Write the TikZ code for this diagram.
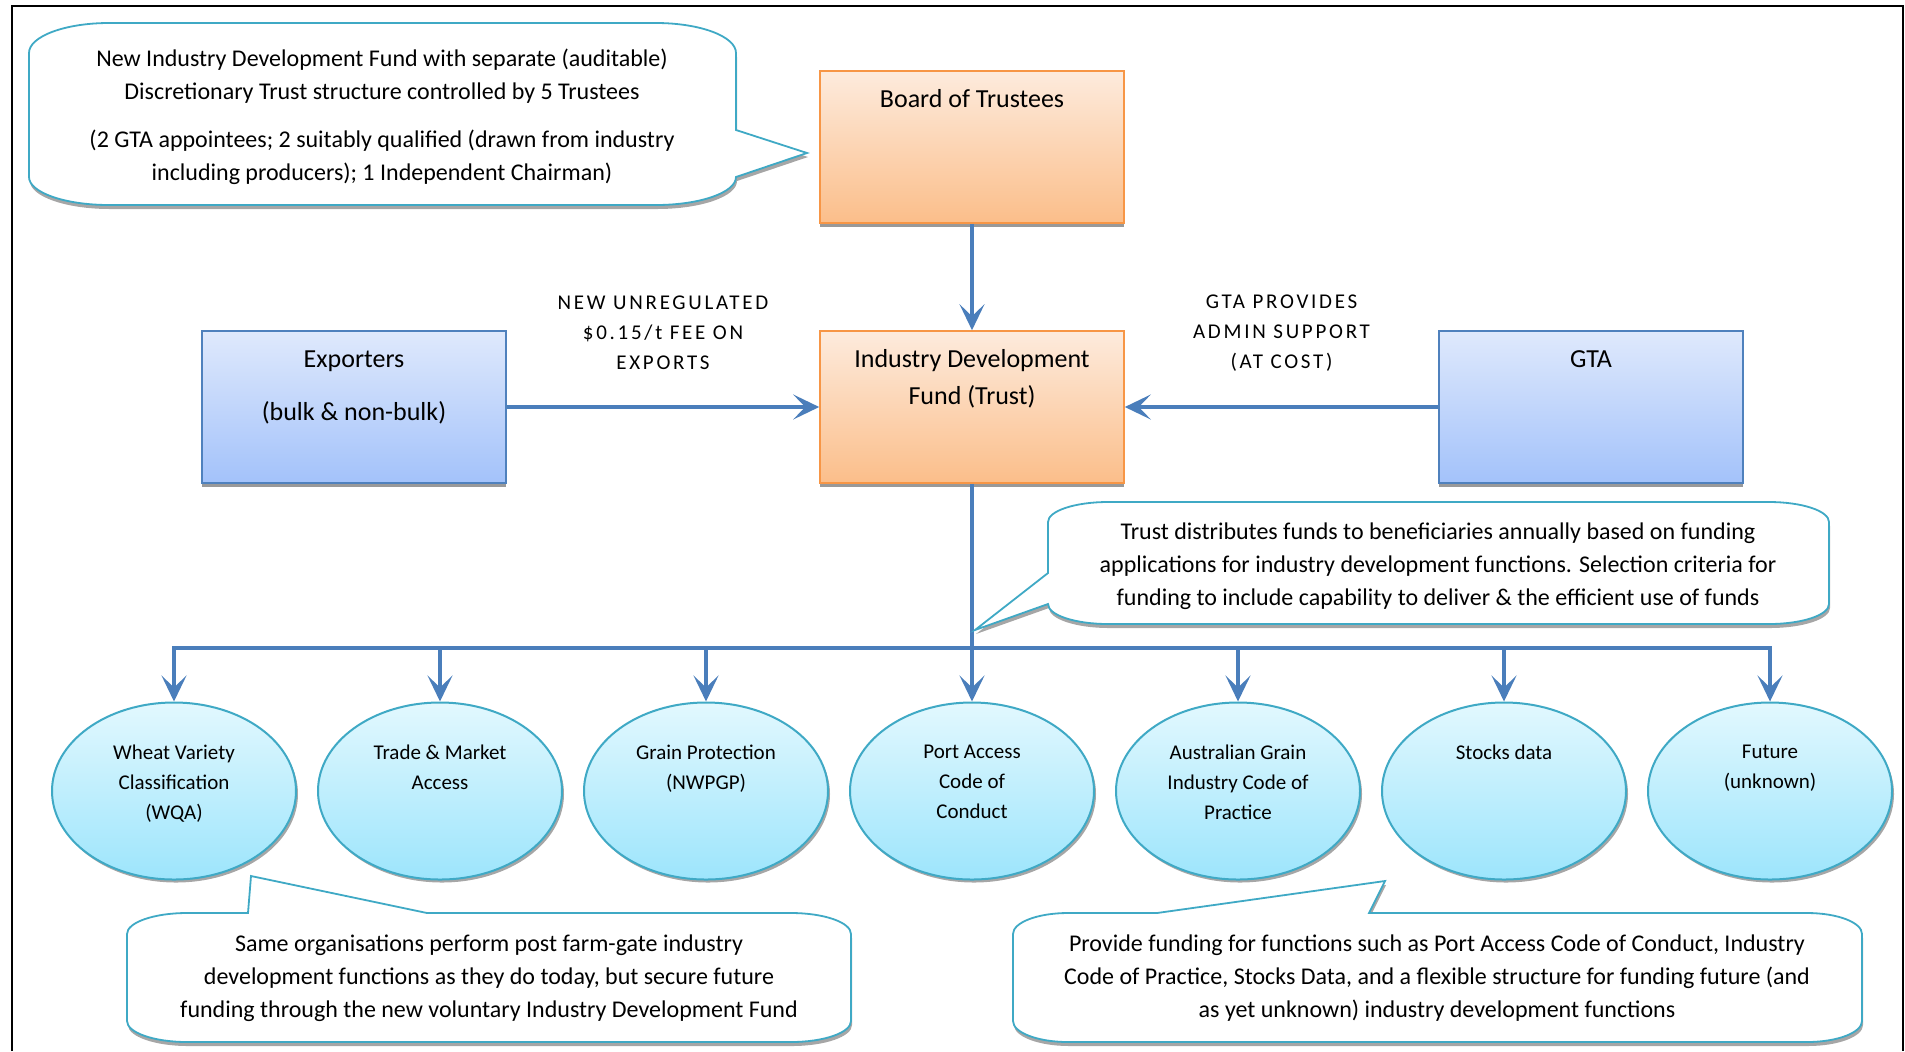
\documentclass[tikz,border=0pt]{standalone}
\usepackage{fontspec}
\setmainfont{Carlito}
\usetikzlibrary{positioning,shapes.geometric,shadows,arrows.meta,calc}

\definecolor{otop}{HTML}{FDEBDD}
\definecolor{obot}{HTML}{FBBE8A}
\definecolor{oline}{HTML}{F79646}
\definecolor{btop}{HTML}{DFE9FC}
\definecolor{bbot}{HTML}{A3C2FA}
\definecolor{bline}{HTML}{4F81BD}
\definecolor{etop}{HTML}{E2F8FE}
\definecolor{ebot}{HTML}{9DE5FC}
\definecolor{cline}{HTML}{3FA9C5}
\definecolor{aline}{HTML}{4A7EBB}

\tikzset{
    obox/.style={draw=oline, line width=0.8pt, top color=otop, bottom color=obot,
        minimum width=152pt, minimum height=76pt, inner sep=0pt,
        drop shadow={shadow xshift=0pt, shadow yshift=-2pt, fill=black!40, opacity=1}},
    bbox/.style={obox, draw=bline, top color=btop, bottom color=bbot},
    fnode/.style={ellipse, draw=cline, line width=1pt, top color=etop, bottom color=ebot,
        minimum width=122pt, minimum height=88.5pt, inner sep=0pt,
        drop shadow={shadow xshift=1pt, shadow yshift=-1.5pt, fill=black!35, opacity=1}},
    btext/.style={inner sep=0pt, align=center, font=\fontsize{13}{18.5}\selectfont},
    etext/.style={inner sep=0pt, align=center, font=\fontsize{10.5}{15}\selectfont},
    ctext/.style={inner sep=0pt, align=center, font=\fontsize{12}{16.5}\selectfont},
    caplbl/.style={inner sep=0pt, align=center,
        font=\fontsize{10.5}{15}\selectfont\addfontfeature{LetterSpace=13}},
    callout/.style={draw=cline, line width=0.9pt, fill=white,
        drop shadow={shadow xshift=0.5pt, shadow yshift=-2pt, fill=black!35, opacity=1}},
    conn/.style={draw=aline, line width=1.6pt},
    arr/.style={conn, -{Stealth[length=13pt, width=12.5pt, inset=6pt]}},
}

\begin{document}
\begin{tikzpicture}[x=0.5pt,y=-0.5pt]
    \useasboundingbox (0,0) rectangle (1905,1051);
    \draw[line width=1.2pt] (12,1051) -- (12,6) -- (1903,6) -- (1903,1051);

    % boxes
    \node[obox] (board) at (972,147) {};
    \node[obox] (idf) at (972,407) {};
    \node[bbox] (exp) at (354,407) {};
    \node[bbox] (gta) at (1591,407) {};
    \node[btext, below=9.5pt of board.north] (boardt) {Board of Trustees};
    \node[btext, below=9.5pt of idf.north] (idft) {Industry Development\\Fund (Trust)};
    \node[btext, below=10pt of exp.north] (expt) {Exporters\\[8pt](bulk \& non-bulk)};
    \node[btext, below=10pt of gta.north] (gtat) {GTA};

    % funded functions
    \foreach \i/\txt in {1/{Wheat Variety\\Classification\\(WQA)}, 2/{Trade \& Market\\Access},
        3/{Grain Protection\\(NWPGP)}, 4/{Port Access\\Code of\\Conduct},
        5/{Australian Grain\\Industry Code of\\Practice}, 6/{Stocks data}, 7/{Future\\(unknown)}} {
        \node[fnode] (e\i) at ({174+266*(\i-1)},791) {};
        \node[etext, below=21.5pt of e\i.north] (t\i) {\txt};
    }

    \coordinate (bus) at (972,648);
    \draw[arr] (board) -- (idf);
    \draw[arr] (exp) -- (idf);
    \draw[arr] (gta) -- (idf);
    \draw[conn] (idf) -- (bus);
    \foreach \i in {1,...,7}
        \draw[arr] (bus) -| (e\i.north);

    \node[caplbl, yshift=-1.5pt] (feelbl) at ($(exp.north east)!.5!(idf.north west)$) {NEW UNREGULATED\\\$0.15/t FEE ON\\EXPORTS};
    \node[caplbl, yshift=-1.5pt] (adminlbl) at ($(idf.north east)!.5!(gta.north west)$) {GTA PROVIDES\\ADMIN SUPPORT\\(AT COST)};

    % callouts
    \draw[callout] (109,23) -- (656,23) arc[start angle=270, end angle=360, x radius=80, y radius=30]
        -- (736,130) -- (807,153) -- (736,177) arc[start angle=0, end angle=90, x radius=80, y radius=28]
        -- (109,205) arc[start angle=90, end angle=180, x radius=80, y radius=28]
        -- (29,53) arc[start angle=180, end angle=270, x radius=80, y radius=30] -- cycle;
    \node[ctext] (c1) at (382,117) {New Industry Development Fund with separate (auditable)\\Discretionary Trust structure controlled by 5 Trustees\\[7.5pt](2 GTA appointees; 2 suitably qualified (drawn from industry\\including producers); 1 Independent Chairman)};

    \draw[callout] (1108,502) -- (1769,502) arc[start angle=270, end angle=360, x radius=60, y radius=20]
        -- (1829,604) arc[start angle=0, end angle=90, x radius=60, y radius=20]
        -- (1108,624) arc[start angle=90, end angle=180, x radius=60, y radius=20]
        -- (975,630) -- (1048,573) -- (1048,522) arc[start angle=180, end angle=270, x radius=60, y radius=20] -- cycle;
    \node[ctext] (c2) at (1438,566) {Trust distributes funds to beneficiaries annually based on funding\\applications for industry development functions. Selection criteria for\\funding to include capability to deliver \& the efficient use of funds};

    \draw[callout] (187,913) -- (248,913) -- (251,876) -- (427,913) -- (791,913)
        arc[start angle=270, end angle=360, x radius=60, y radius=21]
        -- (851,1021) arc[start angle=0, end angle=90, x radius=60, y radius=21]
        -- (187,1042) arc[start angle=90, end angle=180, x radius=60, y radius=21]
        -- (127,934) arc[start angle=180, end angle=270, x radius=60, y radius=21] -- cycle;
    \node[ctext] (c3) at (489,978) {Same organisations perform post farm-gate industry\\development functions as they do today, but secure future\\funding through the new voluntary Industry Development Fund};

    \draw[callout] (1068,913) -- (1157,913) -- (1385,881) -- (1369,913) -- (1807,913)
        arc[start angle=270, end angle=360, x radius=55, y radius=21]
        -- (1862,1021) arc[start angle=0, end angle=90, x radius=55, y radius=21]
        -- (1068,1042) arc[start angle=90, end angle=180, x radius=55, y radius=21]
        -- (1013,934) arc[start angle=180, end angle=270, x radius=55, y radius=21] -- cycle;
    \node[ctext] (c4) at (1437,978) {Provide funding for functions such as Port Access Code of Conduct, Industry\\Code of Practice, Stocks Data, and a flexible structure for funding future (and\\as yet unknown) industry development functions};
\end{tikzpicture}
\end{document}
